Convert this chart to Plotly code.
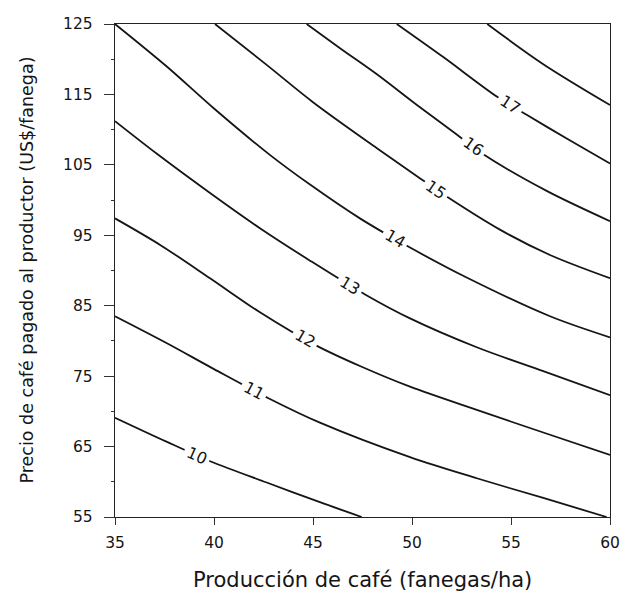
import numpy as np
import plotly.graph_objects as go

# ---- data ----
levels = [10, 11, 12, 13, 14, 15, 16, 17, 18]

c10_x = [35, 37.6, 40.0, 42.66, 45.35, 47.46]
c10_y = [69.1, 65.7, 62.7, 59.9, 57.1, 55.0]

c11_x = [35, 37.6, 40.0, 42.8, 45.35, 49.9, 53.27, 56.63, 59.83]
c11_y = [83.5, 79.7, 76.0, 71.8, 68.4, 63.5, 60.5, 57.7, 55.0]

c12_x = [35, 37.3, 39.8, 42.3, 45.2, 47.4, 49.9, 53.27, 56.63, 60]
c12_y = [97.4, 93.6, 88.9, 84.1, 79.3, 76.4, 73.5, 70.2, 67.0, 63.8]

c13_x = [35, 37.1, 39.8, 42.32, 44.85, 47.63, 49.9, 53.27, 56.63, 60]
c13_y = [111.2, 106.6, 101.0, 96.0, 91.4, 86.6, 83.2, 79.1, 75.7, 72.3]

c14_x = [35, 37.6, 40.0, 42.74, 44.85, 47.37, 49.81, 52.76, 56.97, 60]
c14_y = [125.0, 119.0, 113.0, 106.6, 102.2, 97.4, 93.4, 89.0, 83.5, 80.5]

c15_x = [40.05, 42.66, 45.0, 48.21, 50.45, 51.75, 54.44, 56.97, 60]
c15_y = [125.0, 119.2, 113.9, 107.4, 103.0, 100.5, 95.8, 92.2, 88.9]

c16_x = [44.68, 46.4, 48.21, 50.3, 52.26, 53.6, 56.8, 60]
c16_y = [125.0, 121.5, 117.9, 113.4, 109.3, 106.5, 101.3, 97.0]

c17_x = [49.23, 51.58, 54.28, 55.79, 57.9, 60]
c17_y = [125.0, 120.3, 114.7, 112.1, 108.6, 105.2]

c18_x = [53.8, 56.63, 60]
c18_y = [125.0, 119.3, 113.5]

curves_x = [c10_x, c11_x, c12_x, c13_x, c14_x, c15_x, c16_x, c17_x, c18_x]
curves_y = [c10_y, c11_y, c12_y, c13_y, c14_y, c15_y, c16_y, c17_y, c18_y]

label_levels = [10, 11, 12, 13, 14, 15, 16, 17]
label_x = [39.13, 42.0, 44.6, 46.87, 49.14, 51.2, 53.1, 54.95]

x_ticks = [35, 40, 45, 50, 55, 60]
y_ticks = [55, 65, 75, 85, 95, 105, 115, 125]

x_title = "Producción de café (fanegas/ha)"
y_title = "Precio de café pagado al productor (US$/fanega)"

# ---- figure ----
# the page body keeps its default 8px margin, so the figure is sized to fit
W, H = 624, 585
ML, MR, MT, MB = 107, 22, 7, 76
PW, PH = W - ML - MR, H - MT - MB
FONT = "DejaVu Sans"
INK = "#151515"

fig = go.Figure()
for lev, xs, ys in zip(levels, curves_x, curves_y):
    fig.add_trace(go.Scatter(
        x=xs, y=ys, mode="lines", name=str(lev),
        line=dict(color=INK, width=1.8, shape="spline", smoothing=0.9),
        hoverinfo="skip", showlegend=False,
    ))

# pixel scale for label rotation
px_per_x = PW / (x_ticks[-1] - x_ticks[0])
px_per_y = PH / (y_ticks[-1] - y_ticks[0])

annotations = []
for lev, lx in zip(label_levels, label_x):
    i = levels.index(lev)
    xs, ys = curves_x[i], curves_y[i]
    ly = float(np.interp(lx, xs, ys))
    y1 = np.interp(lx - 1.0, xs, ys)
    y2 = np.interp(lx + 1.0, xs, ys)
    slope_px = (y1 - y2) / 2.0 * px_per_y / px_per_x
    ang = float(np.degrees(np.arctan(slope_px)))
    annotations.append(dict(
        x=lx, y=ly, xref="x", yref="y", text=str(lev), showarrow=False,
        textangle=ang, bgcolor="white", borderpad=3,
        font=dict(family=FONT, size=16, color=INK),
    ))

# axis titles placed as annotations (pixel offsets from the plot area)
annotations.append(dict(
    text=x_title, xref="paper", yref="paper", x=0.5, y=0,
    xanchor="center", yanchor="middle", yshift=-63, showarrow=False,
    font=dict(family=FONT, size=21, color=INK),
))
annotations.append(dict(
    text=y_title, xref="paper", yref="paper", x=0, y=0.5,
    xanchor="center", yanchor="middle", xshift=-89, showarrow=False,
    textangle=-90, font=dict(family=FONT, size=17.5, color=INK),
))

fig.update_layout(
    width=W, height=H,
    margin=dict(l=ML, r=MR, t=MT, b=MB),
    paper_bgcolor="white", plot_bgcolor="white",
    font=dict(family=FONT, size=15.5, color=INK),
    annotations=annotations,
    showlegend=False,
)
fig.update_xaxes(
    range=[35, 60], tickvals=x_ticks, ticks="outside", ticklen=7, tickwidth=1.2,
    tickcolor="#333", showline=True, linecolor="#222", linewidth=1.4, mirror=True,
    showgrid=False, zeroline=False, tickfont=dict(size=15.5), ticklabelstandoff=4,
    ticklabeloverflow="allow",
)
fig.update_yaxes(
    range=[55, 125], tickvals=y_ticks, ticks="outside", ticklen=10, tickwidth=1.2,
    tickcolor="#333", showline=True, linecolor="#222", linewidth=1.4, mirror=True,
    showgrid=False, zeroline=False, tickfont=dict(size=15.5), ticklabelstandoff=8,
    ticklabeloverflow="allow",
    minor=dict(dtick=5, tick0=55, ticks="outside", ticklen=3, tickcolor="#333"),
)

fig.write_html("out.html")
